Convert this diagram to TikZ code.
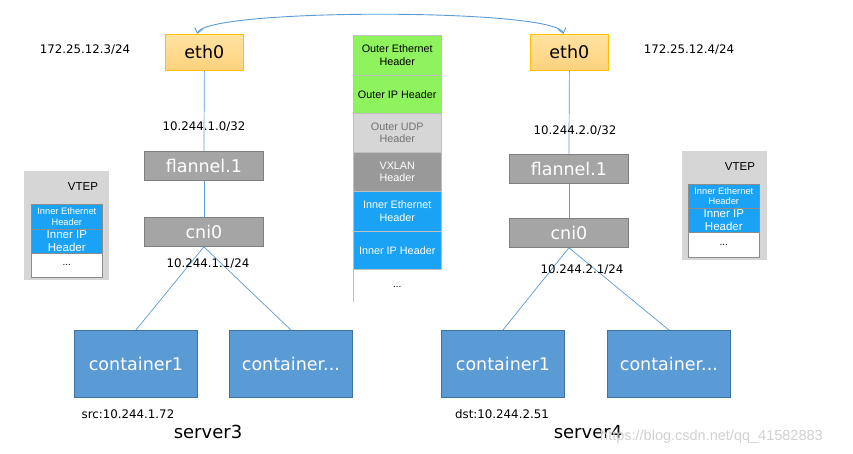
\documentclass[tikz,border=0pt]{standalone}
\usepackage{fontspec}
\setmainfont{DejaVu Sans}
\newfontfamily\tabfont{Liberation Sans}
\usetikzlibrary{arrows.meta}
\definecolor{lineblue}{RGB}{91,155,213}
\definecolor{contfill}{RGB}{91,155,213}
\definecolor{contdraw}{RGB}{65,113,156}
\definecolor{grayfill}{RGB}{165,165,165}
\definecolor{graydraw}{RGB}{127,127,127}
\definecolor{ethtop}{RGB}{255,226,160}
\definecolor{ethbot}{RGB}{255,210,125}
\definecolor{ethdraw}{RGB}{255,192,0}
\definecolor{pgreen}{RGB}{142,243,92}
\definecolor{pudp}{RGB}{214,214,214}
\definecolor{pvx}{RGB}{153,153,153}
\definecolor{pblue}{RGB}{26,163,245}
\definecolor{vtepgray}{RGB}{214,214,214}
\begin{document}
\begin{tikzpicture}[x=1pt,y=-1pt,
  every node/.style={inner sep=0pt},
  boxbase/.style={draw, anchor=north west, line width=0.8pt, align=center},
  ethbox/.style={boxbase, minimum width=78pt, minimum height=36pt, top color=ethtop, bottom color=ethbot, draw=ethdraw, font=\fontsize{17.5}{20}\selectfont},
  devbox/.style={boxbase, minimum width=119pt, minimum height=29pt, fill=grayfill, draw=graydraw, text=white, font=\fontsize{17.5}{20}\selectfont},
  contbox/.style={boxbase, minimum width=123pt, minimum height=67pt, fill=contfill, draw=contdraw, text=white, font=\fontsize{17.5}{20}\selectfont},
  iplabel/.style={font=\fontsize{11.8}{14}\selectfont},
  srvlabel/.style={font=\fontsize{18}{21}\selectfont},
  link/.style={draw=lineblue, line width=0.7pt},
  prow/.style={draw=black!25, line width=0.5pt, anchor=north west, minimum width=88pt, align=center, font=\tabfont\fontsize{10.8}{12.5}\selectfont},
  vrow/.style={draw=black!45, line width=0.6pt, anchor=north west, minimum width=71pt, align=center, text=white, fill=pblue},
  vgray/.style={anchor=north west, fill=vtepgray, minimum width=85pt, minimum height=109pt},
  vteplabel/.style={font=\tabfont\fontsize{11.5}{13}\selectfont}
]
\fill[white] (0,0) rectangle (853,454);
\useasboundingbox (0,0) rectangle (853,454);

% left server
\node[ethbox] (ethL) at (165,34) {eth0};
\node[devbox] (flanL) at (144,151) {flannel.1};
\node[devbox] (cniL) at (144,217) {cni0};
\node[contbox] (c1L) at (74,330) {container1};
\node[contbox] (cxL) at (229,330) {container...};
\node[iplabel] (ipL) at (85,50) {172.25.12.3/24};
\draw[link] (ethL.south) -- (flanL.north);
\draw[link] (flanL.south) -- (cniL.north);
\draw[link] (cniL.south) -- (c1L.north);
\draw[link] (cniL.south) -- (cxL.north);
\node[iplabel] (fipL) at (204,127) {10.244.1.0/32};
\node[iplabel] (cipL) at (208,264) {10.244.1.1/24};
\node[iplabel] (srcL) at (128,414) {src:10.244.1.72};
\node[srvlabel] (srv3) at (208,432) {server3};

% right server
\node[ethbox] (ethR) at (530,34) {eth0};
\node[devbox] (flanR) at (509,154) {flannel.1};
\node[devbox] (cniR) at (509,218) {cni0};
\node[contbox] (c1R) at (441,330) {container1};
\node[contbox] (cxR) at (607,330) {container...};
\node[iplabel] (ipR) at (689,50) {172.25.12.4/24};
\draw[link] (ethR.south) -- (flanR.north);
\draw[link] (flanR.south) -- (cniR.north);
\draw[link] (cniR.south) -- (c1R.north);
\draw[link] (cniR.south) -- (cxR.north);
\node[iplabel] (fipR) at (575,131) {10.244.2.0/32};
\node[iplabel] (cipR) at (582,270) {10.244.2.1/24};
\node[iplabel] (dstR) at (502,414) {dst:10.244.2.51};
\node[srvlabel] (srv4) at (588,432) {server4};

% arc between eth0s
\draw[draw=lineblue, line width=0.9pt, {Straight Barb[length=5pt,width=8pt]}-{Straight Barb[length=5pt,width=8pt]}]
  ([xshift=-7pt]ethL.north) .. controls (203,8) and (557,8) .. ([xshift=-6pt]ethR.north);

% packet
\node[prow, fill=pgreen, minimum height=40pt] (p1) at (353,35) {Outer Ethernet\\Header};
\node[prow, fill=pgreen, minimum height=38pt] (p2) at (353,75) {Outer IP Header};
\node[prow, fill=pudp, minimum height=39pt, text=black!55] (p3) at (353,113) {Outer UDP\\Header};
\node[prow, fill=pvx, minimum height=39pt, text=white] (p4) at (353,152) {VXLAN\\Header};
\node[prow, fill=pblue, minimum height=40pt, text=white] (p5) at (353,191) {Inner Ethernet\\Header};
\node[prow, fill=pblue, minimum height=38pt, text=white] (p6) at (353,231) {Inner IP Header};
\node[anchor=north west, minimum width=88pt, minimum height=33pt, font=\tabfont\fontsize{10}{12}\selectfont] (p7) at (353,269) {\raisebox{-4pt}{...}};
\draw[black!25, line width=0.8pt] (p7.north west) -- (p7.south west);

% left VTEP
\node[vgray] (vgL) at (24,171) {};
\node[vteplabel] (vtL) at (83,187) {VTEP};
\node[vrow, minimum height=25pt, font=\tabfont\fontsize{9.3}{10.5}\selectfont] (vL1) at (31,204) {Inner Ethernet\\Header};
\node[vrow, minimum height=24pt, font=\tabfont\fontsize{11.5}{13}\selectfont] (vL2) at (31,229) {Inner IP\\Header};
\node[vrow, minimum height=24pt, fill=white, text=black, font=\tabfont\fontsize{10}{12}\selectfont] (vL3) at (31,253) {...};
\draw[black!45, line width=0.8pt] (vL1.north west) rectangle (vL3.south east);

% right VTEP
\node[vgray] (vgR) at (682,151) {};
\node[vteplabel] (vtR) at (740,167) {VTEP};
\node[vrow, minimum height=24pt, font=\tabfont\fontsize{9.3}{10.5}\selectfont] (vR1) at (688,184) {Inner Ethernet\\Header};
\node[vrow, minimum height=24pt, font=\tabfont\fontsize{11.5}{13}\selectfont] (vR2) at (688,208) {Inner IP\\Header};
\node[vrow, minimum height=25pt, fill=white, text=black, font=\tabfont\fontsize{10}{12}\selectfont] (vR3) at (688,232) {...};
\draw[black!45, line width=0.8pt] (vR1.north west) rectangle (vR3.south east);

% watermark
\node[anchor=west, text=black!18, font=\tabfont\fontsize{14.5}{16}\selectfont] (wm) at (600,437) {https://blog.csdn.net/qq\_41582883};
\end{tikzpicture}
\end{document}
